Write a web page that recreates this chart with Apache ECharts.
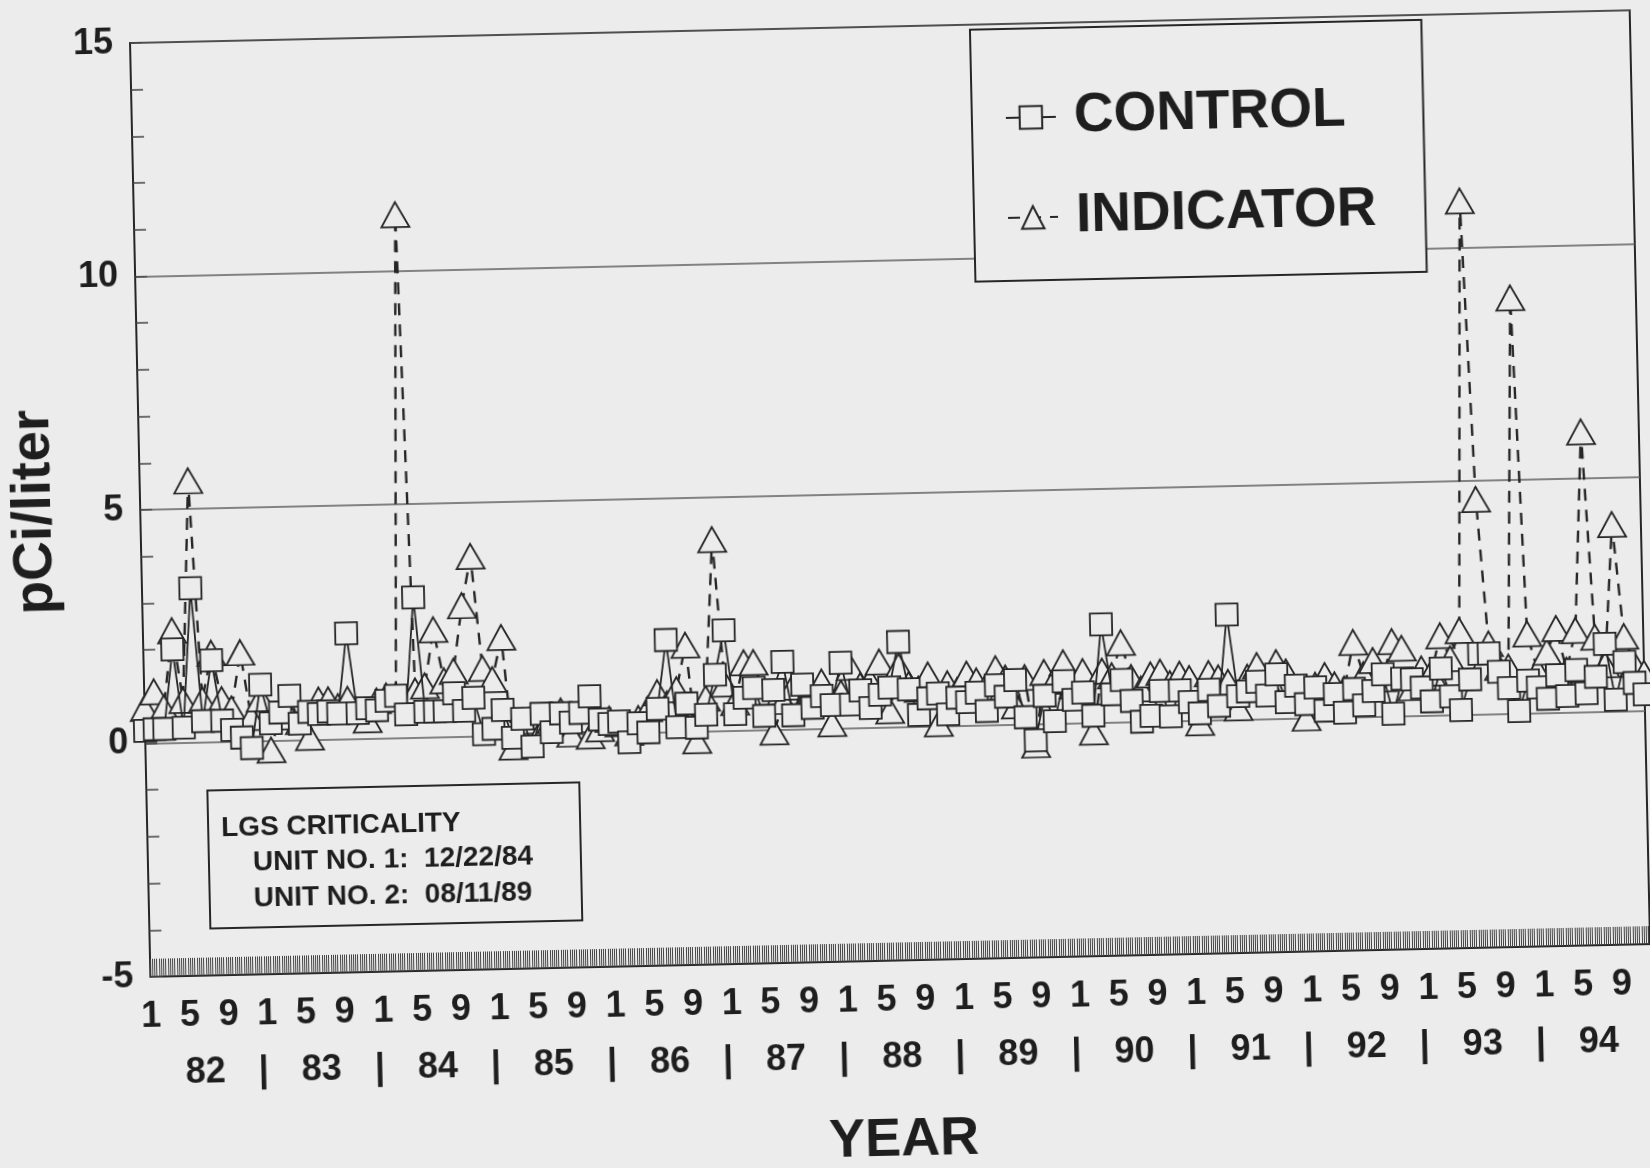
<!DOCTYPE html>
<html>
<head>
<meta charset="utf-8">
<script src="https://cdn.jsdelivr.net/npm/echarts@6/dist/echarts.min.js"></script>
<style>
html,body{margin:0;padding:0;background:#ececec;overflow:hidden;width:1650px;height:1168px;}
#chart{width:1650px;height:1168px;transform:rotate(-1.25deg);transform-origin:825px 584px;}
</style>
</head>
<body>
<div id="chart"></div>
<script>
// ---- data (monthly samples, index 0 = Jan 1982) ----
const monthLabels = ['1', '5', '9'];
const yearLabels = ['82','83','84','85','86','87','88','89','90','91','92','93','94'];
const yTickLabels = [-5, 0, 5, 10, 15];
const legendNames = ['CONTROL', 'INDICATOR'];
const noteLines = ['LGS CRITICALITY', 'UNIT NO. 1:  12/22/84', 'UNIT NO. 2:  08/11/89'];

const controlValues = [
  0.27,0.3,0.3,2.0,0.32,3.3,0.45,1.75,0.45,0.25,
  0.08,-0.15,1.2,0.37,0.6,0.95,0.35,0.6,0.55,0.6,
  0.55,2.26,0.55,0.65,0.6,0.8,0.9,0.5,3.0,0.55,
  0.55,0.55,0.93,0.55,0.82,0.04,0.15,0.55,-0.05,0.35,
  -0.25,0.45,0.05,0.45,0.25,0.45,0.8,0.3,0.2,0.25,
  -0.2,0.2,0.0,0.5,1.97,0.1,0.6,0.08,0.35,1.2,
  2.15,0.35,0.7,0.9,0.3,0.85,1.45,0.3,0.95,0.45,
  0.7,0.5,1.4,0.5,0.8,0.42,0.7,0.85,1.82,0.8,
  0.25,0.6,0.7,0.25,0.6,0.5,0.7,0.3,0.85,0.6,
  0.95,0.15,-0.35,0.6,0.05,0.9,0.5,0.65,0.15,2.1,
  0.6,0.9,0.45,0.0,0.12,0.65,0.1,0.65,0.4,0.15,
  0.65,0.3,2.25,0.5,0.6,0.8,0.5,0.95,0.35,0.7,
  0.3,0.65,0.15,0.5,0.1,0.6,0.25,0.55,0.9,0.05,
  0.8,0.78,0.6,0.3,1.0,0.4,0.1,0.75,1.3,1.3,
  0.9,0.55,0.05,0.7,0.55,0.3,0.8,0.35,0.9,0.4,
  0.75,1.45,0.25,1.05,0.6,0.35
];

const indicatorValues = [
  0.75,1.1,0.75,2.4,0.9,5.6,0.9,1.9,0.9,0.7,
  1.9,0.5,0.9,-0.2,0.6,0.5,0.4,0.05,0.85,0.85,
  0.7,0.85,0.6,0.4,0.8,0.9,0.9,11.2,1.0,1.1,
  2.3,1.2,1.4,2.8,3.85,1.45,1.2,2.1,-0.25,0.3,
  0.4,0.1,0.3,0.5,0.0,0.3,-0.05,0.1,0.3,0.2,
  0.0,0.3,0.5,0.85,0.6,0.9,1.85,-0.2,0.7,4.1,
  1.0,0.6,1.45,1.45,0.8,-0.05,0.6,0.9,0.5,0.8,
  1.0,0.1,0.75,1.3,0.9,1.0,1.4,0.35,1.3,0.9,
  0.8,1.1,0.05,0.9,0.75,1.1,0.95,0.8,1.2,1.0,
  0.4,1.0,-0.45,1.1,0.9,1.3,0.8,1.1,-0.2,1.1,
  1.0,1.7,0.95,0.7,1.0,1.05,0.8,1.0,0.9,-0.05,
  1.0,0.9,0.8,0.25,0.9,1.15,0.8,1.2,1.0,0.6,
  0.0,0.7,0.9,0.7,0.6,1.6,0.9,1.2,0.8,1.6,
  1.45,0.6,1.0,0.9,1.7,1.2,1.8,11.0,4.6,1.5,
  1.0,1.0,8.9,1.7,0.9,1.3,1.8,0.9,1.75,6.0,
  1.6,1.0,4.0,1.6,1.0,0.8
];

// ---- derived axis helpers ----
const monthTickValues = [];
yearLabels.forEach((y, i) => monthLabels.forEach((m, j) => monthTickValues.push(i * 12 + j * 4)));
const yearLabelValues = [];
yearLabels.forEach((y, i) => {
  yearLabelValues.push(i * 12 + 5.5);
  if (i < yearLabels.length - 1) yearLabelValues.push(i * 12 + 11.5);
});
const weekTicks = [];
for (let k = 0; k * 12 / 52 <= 155; k++) weekTicks.push(k * 12 / 52);

const FONT = '"Liberation Sans", Arial, Helvetica, sans-serif';
const INK = '#262626';
const BG = '#ececec';

const chart = echarts.init(document.getElementById('chart'), null, {renderer: 'canvas'});
chart.setOption({
  backgroundColor: BG,
  animation: false,
  grid: {left: 142, top: 28, width: 1500, height: 934, outerBoundsMode: 'none', containLabel: false,
         show: true, borderColor: INK, borderWidth: 2, backgroundColor: 'transparent'},
  legend: {
    data: legendNames,
    orient: 'vertical',
    left: 982, top: 33,
    padding: [60, 49, 34, 33],
    itemGap: 42,
    itemWidth: 50, itemHeight: 28,
    backgroundColor: BG,
    borderColor: INK, borderWidth: 2,
    textStyle: {fontFamily: FONT, fontSize: 55, fontWeight: 'bold', color: '#1e1e1e', lineHeight: 58, padding: [0, 0, 0, 13]},
    selectedMode: false
  },
  xAxis: [
    {
      type: 'value', min: 0, max: 155,
      name: 'YEAR', nameLocation: 'middle', nameGap: 153,
      nameTextStyle: {fontFamily: FONT, fontSize: 54, fontWeight: 'bold', color: '#1e1e1e'},
      axisLine: {show: true, onZero: false, lineStyle: {color: INK, width: 2}},
      axisTick: {show: true, inside: true, length: 18, customValues: weekTicks, lineStyle: {color: '#444', width: 1}},
      axisLabel: {
        customValues: monthTickValues, margin: 22,
        fontFamily: FONT, fontSize: 36, fontWeight: 'bold', color: '#1e1e1e', lineHeight: 36,
        formatter: v => monthLabels[Math.round(v % 12) / 4]
      },
      splitLine: {show: false}
    },
    {
      type: 'value', min: 0, max: 155, position: 'bottom', offset: 0,
      axisLine: {show: false, onZero: false}, axisTick: {show: false}, splitLine: {show: false},
      axisLabel: {
        customValues: yearLabelValues, margin: 79,
        fontFamily: FONT, fontSize: 36, fontWeight: 'bold', color: '#1e1e1e', lineHeight: 36,
        formatter: v => {
          const k = Math.round((v - 5.5) / 6);
          return k % 2 === 0 ? yearLabels[k / 2] : '|';
        }
      }
    }
  ],
  yAxis: [
    {
      type: 'value', min: -5, max: 15, interval: 1,
      name: 'pCi/liter', nameLocation: 'middle', nameGap: 78, nameRotate: 90,
      nameTextStyle: {fontFamily: FONT, fontSize: 55, fontWeight: 'bold', color: '#1e1e1e'},
      axisLine: {show: true, onZero: false, lineStyle: {color: INK, width: 2}},
      axisTick: {show: true, inside: true, length: 12, lineStyle: {color: '#444', width: 1.5}},
      axisLabel: {customValues: yTickLabels, margin: 17, fontFamily: FONT, fontSize: 36, fontWeight: 'bold', color: '#1e1e1e'},
      splitLine: {show: false}
    },
    {
      type: 'value', min: -5, max: 15, interval: 5, position: 'left',
      axisLine: {show: false, onZero: false}, axisTick: {show: false}, axisLabel: {show: false},
      splitLine: {show: true, lineStyle: {color: '#5f5f5f', width: 1.5}}
    }
  ],
  series: [
    {
      name: 'INDICATOR', type: 'line',
      data: indicatorValues.map((v, i) => [i, v]),
      symbol: 'triangle', symbolSize: [28, 25],
      lineStyle: {color: INK, width: 2.4, type: [12, 9]},
      itemStyle: {color: BG, borderColor: INK, borderWidth: 1.8},
      emphasis: {disabled: true}, z: 2
    },
    {
      name: 'CONTROL', type: 'line',
      data: controlValues.map((v, i) => [i, v]),
      symbol: 'rect', symbolSize: [22, 22],
      lineStyle: {color: INK, width: 1.8, type: 'solid'},
      itemStyle: {color: BG, borderColor: INK, borderWidth: 1.8},
      emphasis: {disabled: true}, z: 3
    }
  ],
  graphic: [
    {type: 'rect', shape: {x: 203, y: 777, width: 372, height: 138}, style: {fill: BG, stroke: INK, lineWidth: 2}, z: 10},
    {type: 'text', x: 216, y: 815, style: {text: noteLines[0], font: 'bold 28px ' + FONT, fill: '#1e1e1e', verticalAlign: 'middle', align: 'left'}, z: 11},
    {type: 'text', x: 247, y: 850, style: {text: noteLines[1], font: 'bold 28px ' + FONT, fill: '#1e1e1e', verticalAlign: 'middle', align: 'left'}, z: 11},
    {type: 'text', x: 247, y: 886, style: {text: noteLines[2], font: 'bold 28px ' + FONT, fill: '#1e1e1e', verticalAlign: 'middle', align: 'left'}, z: 11}
  ]
});
</script>
</body>
</html>
